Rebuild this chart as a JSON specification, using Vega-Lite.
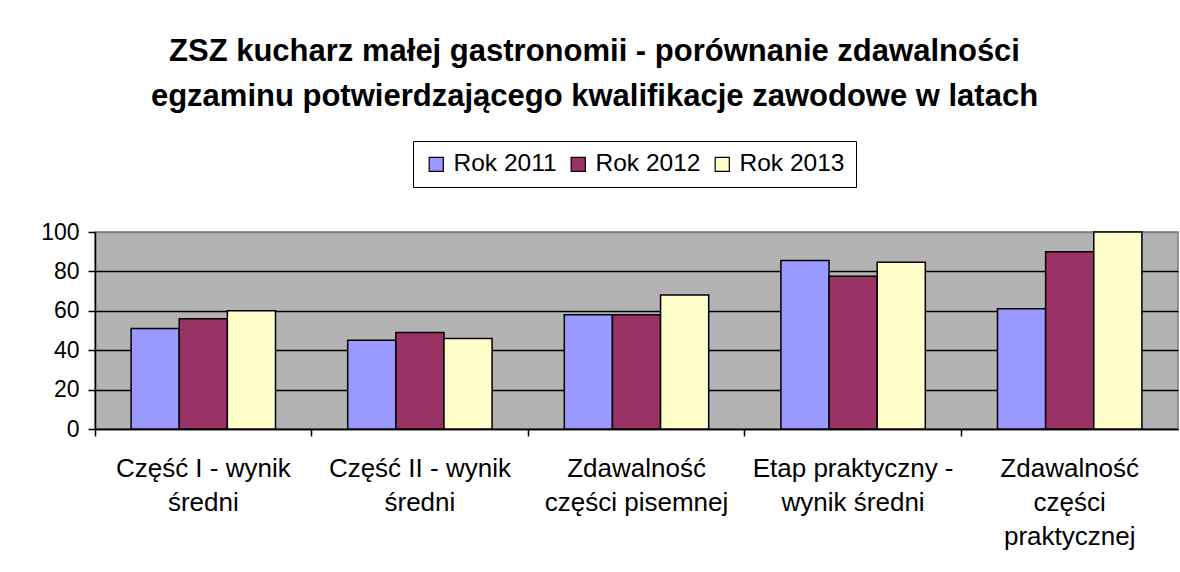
{
  "$schema": "https://vega.github.io/schema/vega-lite/v6.json",
  "width": 1083,
  "height": 197,
  "autosize": {"type": "none"},
  "padding": {"left": 95, "top": 232, "right": 2, "bottom": 143},
  "background": "white",
  "title": {
    "text": ["ZSZ kucharz małej gastronomii - porównanie zdawalności", "egzaminu potwierdzającego kwalifikacje zawodowe w latach"],
    "font": "Liberation Sans",
    "fontSize": 31,
    "fontWeight": "bold",
    "color": "black",
    "anchor": "middle",
    "frame": "group",
    "dx": -42,
    "offset": -3,
    "lineHeight": 45,
    "baseline": "bottom"
  },
  "data": {
    "values": [
      {"cat": "Część I - wynik|średni", "year": "Rok 2011", "value": 51},
      {"cat": "Część I - wynik|średni", "year": "Rok 2012", "value": 56},
      {"cat": "Część I - wynik|średni", "year": "Rok 2013", "value": 60},
      {"cat": "Część II - wynik|średni", "year": "Rok 2011", "value": 45},
      {"cat": "Część II - wynik|średni", "year": "Rok 2012", "value": 49},
      {"cat": "Część II - wynik|średni", "year": "Rok 2013", "value": 46},
      {"cat": "Zdawalność|części pisemnej", "year": "Rok 2011", "value": 58},
      {"cat": "Zdawalność|części pisemnej", "year": "Rok 2012", "value": 58},
      {"cat": "Zdawalność|części pisemnej", "year": "Rok 2013", "value": 68},
      {"cat": "Etap praktyczny -|wynik średni", "year": "Rok 2011", "value": 85.5},
      {"cat": "Etap praktyczny -|wynik średni", "year": "Rok 2012", "value": 77.5},
      {"cat": "Etap praktyczny -|wynik średni", "year": "Rok 2013", "value": 84.7},
      {"cat": "Zdawalność|części|praktycznej", "year": "Rok 2011", "value": 61},
      {"cat": "Zdawalność|części|praktycznej", "year": "Rok 2012", "value": 90},
      {"cat": "Zdawalność|części|praktycznej", "year": "Rok 2013", "value": 100}
    ]
  },
  "mark": {"type": "bar", "stroke": "black", "strokeWidth": 1.5},
  "encoding": {
    "x": {
      "field": "cat",
      "type": "nominal",
      "sort": null,
      "scale": {"paddingInner": 0, "paddingOuter": 0},
      "axis": {
        "title": null,
        "labelAngle": 0,
        "labelExpr": "split(datum.label, '|')",
        "labelFont": "Liberation Sans",
        "labelFontSize": 26,
        "labelColor": "black",
        "labelLineHeight": 34,
        "labelBaseline": "top",
        "labelPadding": 19,
        "bandPosition": 0,
        "domainColor": "black",
        "domainWidth": 1.5,
        "tickColor": "black",
        "tickWidth": 1.5,
        "tickSize": 7,
        "labelLimit": 300
      }
    },
    "xOffset": {
      "field": "year",
      "type": "nominal",
      "scale": {"paddingInner": 0, "paddingOuter": 0.75}
    },
    "y": {
      "field": "value",
      "type": "quantitative",
      "scale": {"domain": [0, 100], "nice": false},
      "axis": {
        "title": null,
        "values": [0, 20, 40, 60, 80, 100],
        "labelFont": "Liberation Sans",
        "labelFontSize": 23,
        "labelColor": "black",
        "labelPadding": 9,
        "domainColor": "black",
        "domainWidth": 1.5,
        "tickColor": "black",
        "tickWidth": 1.5,
        "tickSize": 7,
        "grid": true,
        "gridColor": {"condition": {"test": "datum.value == 100", "value": "#808080"}, "value": "black"},
        "gridWidth": 1.5
      }
    },
    "fill": {
      "field": "year",
      "type": "nominal",
      "scale": {"domain": ["Rok 2011", "Rok 2012", "Rok 2013"], "range": ["#9999FF", "#993366", "#FFFFCC"]},
      "legend": {
        "title": null,
        "orient": "none",
        "direction": "horizontal",
        "legendX": 318,
        "legendY": -91,
        "strokeColor": "black",
        "padding": 11,
        "symbolType": "square",
        "symbolSize": 200,
        "symbolStrokeColor": "black",
        "symbolStrokeWidth": 1.2,
        "labelFont": "Liberation Sans",
        "labelFontSize": 24.5,
        "labelColor": "black",
        "labelOffset": 5,
        "columnPadding": 9,
        "symbolOffset": 0
      }
    }
  },
  "config": {
    "view": {"fill": "#b3b3b3", "stroke": "#808080", "strokeWidth": 1.5}
  }
}
